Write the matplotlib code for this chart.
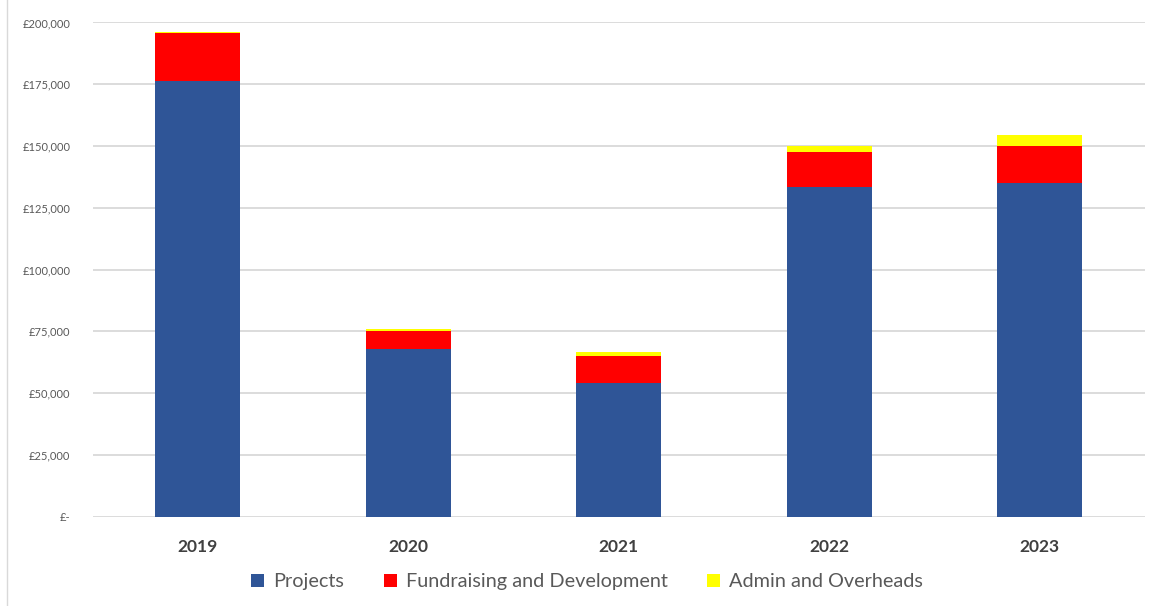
import matplotlib.pyplot as plt
from matplotlib.ticker import FuncFormatter

# Données
annees = ["2019", "2020", "2021", "2022", "2023"]
projets = [176400, 67800, 54300, 133400, 135200]
collecte = [19300, 7500, 10900, 14300, 14900]
admin = [400, 500, 1400, 2400, 4300]

plt.rcParams['font.family'] = ['Lato', 'DejaVu Sans']

fig = plt.figure(figsize=(11.56, 6.06), dpi=100)
ax = fig.add_axes([0.0802, 0.1474, 0.9103, 0.8155])

x = range(len(annees))
largeur = 0.404
bas2 = [p + c for p, c in zip(projets, collecte)]

ax.bar(x, projets, largeur, color="#2f5597", label="Projects", zorder=3)
ax.bar(x, collecte, largeur, bottom=projets, color="#ff0000",
       label="Fundraising and Development", zorder=3)
ax.bar(x, admin, largeur, bottom=bas2, color="#ffff00",
       label="Admin and Overheads", zorder=3)

ax.set_xlim(-0.5, len(annees) - 0.5)
ax.set_ylim(0, 200000)
ax.set_yticks(range(0, 200001, 25000))


def livres(v, pos):
    if v == 0:
        return "£-"
    return "£{:,.0f}".format(v)


ax.yaxis.set_major_formatter(FuncFormatter(livres))
ax.set_xticks(list(x))
ax.set_xticklabels(annees, fontsize=12.5, fontweight="bold", color="#404040")
ax.tick_params(axis="y", length=0, pad=16, labelsize=8, labelcolor="#595959")
ax.tick_params(axis="x", length=0, pad=16)
ax.grid(axis="y", color="#d9d9d9", linewidth=1.3, zorder=0)
for s in ax.spines.values():
    s.set_visible(False)

fig.legend(loc="center", bbox_to_anchor=(0.508, 0.04), ncol=3, frameon=False,
           fontsize=14.3, labelcolor="#595959", handlelength=0.65, handleheight=0.65,
           handletextpad=0.45, columnspacing=2.0)

# bordure gauche discrète
fig.add_artist(plt.Line2D([0.006, 0.006], [0.0, 1.0], color="#d9d9d9",
                          linewidth=1, transform=fig.transFigure))

fig.savefig("out.png", dpi=100)
